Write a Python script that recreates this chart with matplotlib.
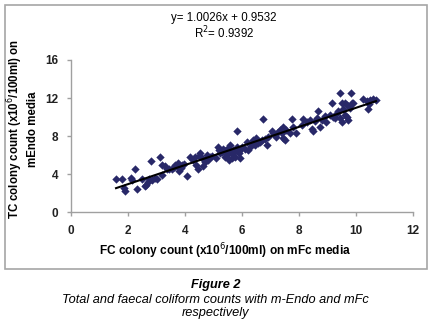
import numpy as np
import matplotlib
matplotlib.use('Agg')
import matplotlib.pyplot as plt
from matplotlib.patches import Rectangle

plt.rcParams['font.family'] = ['Liberation Sans', 'DejaVu Sans']

# FC count on mFc media (x) vs TC count on mEndo media (y), x10^6/100ml
fc = [1.58, 1.78, 1.86, 1.9, 2.1, 2.15, 2.25, 2.3, 2.48, 2.6, 2.63, 2.7, 2.75,
      2.8, 2.83, 2.95, 3.0, 3.12, 3.18, 3.2, 3.3, 3.36, 3.45, 3.53, 3.6, 3.65,
      3.72, 3.77, 3.8, 3.85, 3.88, 3.95, 4.06, 4.17, 4.29, 4.35, 4.4, 4.47, 4.5,
      4.53, 4.58, 4.62, 4.7, 4.76, 4.8, 4.88, 4.95, 5.1, 5.17, 5.2, 5.23, 5.3,
      5.35, 5.4, 5.42, 5.46, 5.5, 5.52, 5.55, 5.58, 5.6, 5.64, 5.68, 5.7, 5.75,
      5.78, 5.81, 5.84, 5.88, 5.9, 5.93, 6.0, 6.1, 6.16, 6.22, 6.3, 6.34, 6.4,
      6.46, 6.5, 6.55, 6.63, 6.7, 6.75, 6.8, 6.87, 6.92, 7.04, 7.1, 7.2, 7.28,
      7.33, 7.4, 7.43, 7.45, 7.5, 7.55, 7.68, 7.74, 7.8, 7.9, 8.1, 8.15, 8.27,
      8.39, 8.44, 8.5, 8.55, 8.62, 8.68, 8.74, 8.8, 8.9, 8.95, 9.09, 9.15, 9.2,
      9.26, 9.32, 9.38, 9.44, 9.44, 9.5, 9.5, 9.55, 9.6, 9.62, 9.67, 9.7, 9.73,
      9.79, 9.82, 9.85, 9.9, 10.26, 10.37, 10.43, 10.45, 10.5, 10.6, 10.7]
tc = [3.54, 3.47, 2.6, 2.2, 3.6, 3.4, 4.6, 2.4, 3.5, 2.8, 2.9, 3.2, 3.5,
      5.4, 3.4, 3.6, 3.5, 5.8, 5.0, 3.9, 4.9, 4.6, 4.5, 4.6, 4.8, 5.0,
      4.9, 5.2, 4.3, 4.7, 5.0, 5.1, 3.8, 5.86, 5.5, 5.86, 5.0, 4.6, 5.9,
      6.2, 5.7, 4.9, 5.3, 6.0, 5.5, 5.86, 5.9, 5.7, 6.9, 6.5, 6.2, 6.3,
      6.6, 6.4, 5.8, 6.0, 6.8, 6.56, 5.5, 7.1, 6.3, 5.7, 6.5, 6.2, 5.86,
      6.7, 8.56, 6.9, 6.4, 6.2, 5.7, 6.9, 6.7, 7.4, 6.56, 7.0, 7.26, 7.6,
      7.1, 7.8, 7.3, 7.4, 7.6, 9.8, 7.7, 7.1, 7.96, 8.5, 8.3, 7.96, 8.4,
      8.67, 8.3, 7.8, 9.0, 7.6, 8.6, 8.3, 9.8, 9.0, 8.3, 9.2, 9.8, 9.5,
      9.7, 8.7, 8.5, 9.6, 9.9, 10.6, 9.0, 9.7, 10.07, 9.5, 10.25, 11.5, 10.0,
      9.9, 10.4, 10.6, 12.5, 9.9, 9.5, 11.5, 10.8, 10.25, 11.5, 11.3, 10.0, 9.7,
      11.0, 12.5, 11.5, 11.5, 11.9, 11.7, 10.9, 11.4, 11.8, 11.9, 11.8]

slope, intercept = 1.0026, 0.9532
r2 = 0.9392
xticks = [0, 2, 4, 6, 8, 10, 12]
yticks = [0, 4, 8, 12, 16]

fig = plt.figure(figsize=(4.31, 3.23), dpi=100)
fig.patch.set_facecolor('white')

# outer chart frame
fig.patches.append(Rectangle((5 / 431, 1 - 269 / 323), 422 / 431, 264 / 323,
                             transform=fig.transFigure, fill=False,
                             edgecolor='#a6a6a6', linewidth=1.2))

ax = fig.add_axes([71 / 431, 1 - 212.3 / 323, 342 / 431, 152.3 / 323])
ax.scatter(fc, tc, marker='D', s=18, color='#282868', linewidths=0, zorder=2)
xl = np.array([min(fc), max(fc)])
ax.plot(xl, slope * xl + intercept, color='black', linewidth=1.5, zorder=3)

ax.set_xlim(0, 12)
ax.set_ylim(0, 16)
ax.set_xticks(xticks)
ax.set_yticks(yticks)
for s in ['top', 'right']:
    ax.spines[s].set_visible(False)
for s in ['left', 'bottom']:
    ax.spines[s].set_color('#a0a0a0')
    ax.spines[s].set_linewidth(1.0)
ax.tick_params(direction='out', length=3, width=1, color='#a0a0a0',
               labelsize=8.5, pad=6)
for lab in ax.get_xticklabels() + ax.get_yticklabels():
    lab.set_fontweight('bold')
    lab.set_color('#222222')

fig.text(224 / 431, 1 - 18 / 323, 'y= 1.0026x + 0.9532', ha='center',
         va='center', fontsize=8.3)
fig.text(224 / 431, 1 - 33 / 323, 'R$^2$= 0.9392', ha='center', va='center',
         fontsize=8.3)

fig.text(225 / 431, 1 - 251 / 323,
         'FC colony count (x10$^6$/100ml) on mFc media',
         ha='center', va='center', fontsize=8.6, fontweight='bold')
fig.text(15 / 431, 1 - 129 / 323, 'TC colony count (x10$^6$/100ml) on',
         ha='center', va='center', rotation=90, fontsize=8.3, fontweight='bold')
fig.text(33 / 431, 1 - 129 / 323, 'mEndo media',
         ha='center', va='center', rotation=90, fontsize=8.3, fontweight='bold')

fig.text(0.5, 1 - 285 / 323, 'Figure 2', ha='center', va='center',
         fontsize=9.2, fontweight='bold', style='italic')
fig.text(0.5, 1 - 300 / 323,
         'Total and faecal coliform counts with m-Endo and mFc',
         ha='center', va='center', fontsize=9.2, style='italic')
fig.text(0.5, 1 - 313 / 323, 'respectively', ha='center', va='center',
         fontsize=9.2, style='italic')

fig.savefig('out.png', dpi=100, facecolor='white')
